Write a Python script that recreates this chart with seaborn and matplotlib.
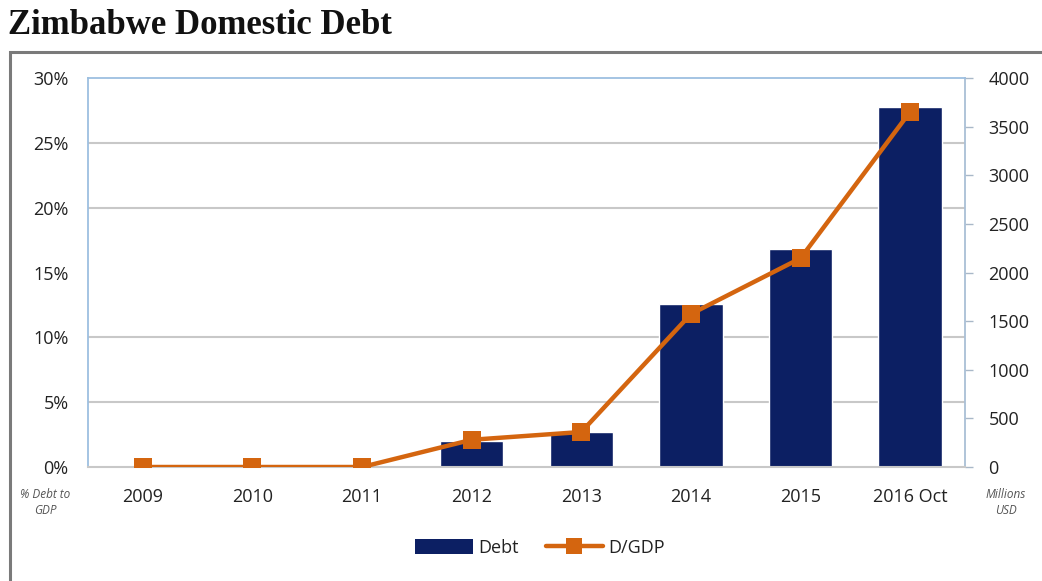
import numpy as np
import pandas as pd
import matplotlib
matplotlib.use("Agg")
import matplotlib.pyplot as plt
import seaborn as sns
from matplotlib.patches import Rectangle
from matplotlib.lines import Line2D
from matplotlib.patches import Patch

categories = ["2009", "2010", "2011", "2012", "2013", "2014", "2015", "2016 Oct"]
debt_musd = [0, 0, 0, 265, 360, 1680, 2240, 3700]
d_gdp_pct = [0.0, 0.0, 0.0, 2.1, 2.7, 11.8, 16.1, 27.4]
left_ticks = [0, 5, 10, 15, 20, 25, 30]
right_ticks = [0, 500, 1000, 1500, 2000, 2500, 3000, 3500, 4000]

df = pd.DataFrame({"cat": categories, "debt": debt_musd, "dgdp": d_gdp_pct})

sns.set_theme(style="white")
plt.rcParams["font.family"] = ["Open Sans", "DejaVu Sans"]

NAVY = "#0c1f63"
ORANGE = "#d4650f"
SPINE = "#9dbfe0"
GRID = "#c8c8c8"
TXT = "#222222"
FS = 13

fig = plt.figure(figsize=(10.42, 5.81), dpi=100)
ax = fig.add_axes([88/1042, 1-467/581, (965-88)/1042, (467-78)/581])
ax2 = ax.twinx()
ax.set_zorder(1)
ax2.set_zorder(2)
ax2.patch.set_visible(False)

# bars on the (right-side) millions axis
sns.barplot(data=df, x="cat", y="debt", color=NAVY, width=0.58, saturation=1,
            ax=ax, zorder=2)
ax.set_ylim(0, 4000)
ax.set_xlim(-0.5, len(categories) - 0.5)
ax.yaxis.tick_right()
ax.yaxis.set_label_position("right")
ax.set_yticks(right_ticks)
ax.set_yticklabels([str(t) for t in right_ticks], fontsize=FS, color=TXT)
ax.set_yticks(np.linspace(0, 4000, len(left_ticks)), minor=True)
ax.yaxis.grid(True, which="minor", color=GRID, linewidth=1.5, zorder=0)
ax.yaxis.grid(False, which="major")
ax.set_axisbelow(True)
ax.tick_params(axis="y", which="major", right=True, left=False, length=6,
               width=1, color="#a9b8c8", pad=11)
ax.tick_params(axis="y", which="minor", right=False, left=False, length=0)
ax.set_xlabel("")
ax.set_ylabel("")
ax.tick_params(axis="x", length=0, pad=15, labelsize=FS, labelcolor=TXT)
for s in ["left", "top", "right"]:
    ax.spines[s].set_color(SPINE)
    ax.spines[s].set_linewidth(1.3)
ax.spines["bottom"].set_color(GRID)
ax.spines["bottom"].set_linewidth(1.5)
ax.spines["right"].set_color("#a9bfd6")

# line on the percent axis (left)
sns.lineplot(data=df, x="cat", y="dgdp", color=ORANGE, linewidth=3.2,
             marker="s", markersize=12.5, markeredgewidth=0, ax=ax2, zorder=3,
             sort=False)
ax2.set_ylim(0, 30)
ax2.set_xlim(-0.5, len(categories) - 0.5)
ax2.yaxis.tick_left()
ax2.set_yticks(left_ticks)
ax2.set_yticklabels([f"{t}%" for t in left_ticks], fontsize=FS, color=TXT)
ax2.tick_params(axis="y", length=0, pad=14, left=False, right=False)
ax2.set_ylabel("")
ax2.set_xlabel("")
for s in ax2.spines.values():
    s.set_visible(False)

# axis unit notes
fig.text(45/1042, 1-502/581, "% Debt to\nGDP", ha="center", va="center",
         fontsize=8.5, style="italic", color="#555555", linespacing=1.3)
fig.text(1006/1042, 1-502/581, "Millions\nUSD", ha="center", va="center",
         fontsize=8.5, style="italic", color="#555555", linespacing=1.3)

# title
fig.text(8/1042, 1-26/581, "Zimbabwe Domestic Debt", ha="left", va="center",
         fontsize=25, fontweight="bold", family="Liberation Serif", color="#111111")

# chart frame
fig.patches.append(Rectangle((10/1042, -0.02), 1.1, 1-52/581 + 0.02,
                             transform=fig.transFigure, fill=False,
                             edgecolor="#7a7a7a", linewidth=2.2, zorder=0))

# legend
handles = [Patch(facecolor=NAVY, edgecolor="none", label="Debt"),
           Line2D([], [], color=ORANGE, linewidth=3.2, marker="s",
                  markersize=11.5, markeredgewidth=0, label="D/GDP")]
fig.legend(handles=handles, loc="center", bbox_to_anchor=(540/1042, 1-548/581),
           ncol=2, frameon=False, fontsize=FS, handlelength=3.2,
           handleheight=0.9, columnspacing=1.5, handletextpad=0.3,
           labelcolor=TXT)

fig.savefig("out.png", dpi=100)
